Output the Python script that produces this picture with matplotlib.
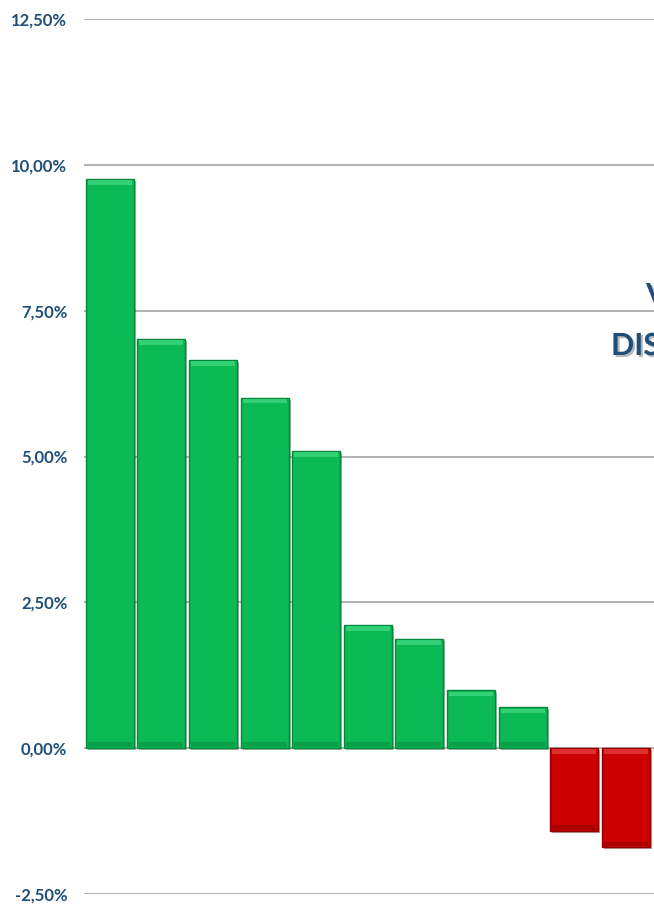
import matplotlib
matplotlib.use('Agg')
import matplotlib.pyplot as plt
import matplotlib.patheffects as pe
from matplotlib.ticker import FuncFormatter

# valores (%)
posicoes = list(range(11))
variacao = [9.76, 7.02, 6.66, 6.01, 5.10, 2.11, 1.87, 0.99, 0.70, -1.42, -1.70]
marcas_y = [-2.5, 0.0, 2.5, 5.0, 7.5, 10.0, 12.5]

azul = '#1F4E79'
verde = '#0BBA55'
vermelho = '#CC0000'

fig = plt.figure(figsize=(6.54, 9.08), dpi=100)
# o eixo passa da borda direita: a imagem original está recortada
ax = fig.add_axes([84 / 654, 14 / 908, 17.75 * 51.6 / 654, 875 / 908])

cores = [verde if v >= 0 else vermelho for v in variacao]
bordas = ['#07873C' if v >= 0 else '#8E0000' for v in variacao]
barras = ax.bar(posicoes, variacao, width=0.93, color=cores, edgecolor=bordas,
                linewidth=1.0, zorder=3)
for b in barras:
    b.set_path_effects([pe.SimplePatchShadow(offset=(1.5, -1.5), alpha=0.35),
                        pe.Normal()])

# leve chanfro: faixa clara no topo e faixa escura na base de cada barra
claras = ['#3FD67F' if v >= 0 else '#E53A3A' for v in variacao]
topo = [max(v, 0) - 0.1 for v in variacao]
ax.bar(posicoes, 0.08, bottom=topo, width=0.85, color=claras, linewidth=0,
       alpha=0.8, zorder=4)
base = [min(v, 0) + 0.02 for v in variacao]
ax.bar(posicoes, 0.08, bottom=base, width=0.85, color=bordas, linewidth=0,
       alpha=0.5, zorder=4)

ax.set_xlim(-0.5, 17.25)
ax.set_ylim(-2.5, 12.5)
ax.set_yticks(marcas_y)
ax.yaxis.set_major_formatter(FuncFormatter(lambda v, p: ('%.2f%%' % v).replace('.', ',')))
ax.grid(axis='y', color='#A6A6A6', linewidth=1.2, zorder=0)
ax.set_xticks([])
ax.tick_params(axis='y', length=0, pad=12)
for lab in ax.get_yticklabels():
    lab.set_fontfamily('Lato')
    lab.set_fontweight('bold')
    lab.set_fontsize(12)
    lab.set_color(azul)
for s in ax.spines.values():
    s.set_visible(False)

sombra = [pe.withSimplePatchShadow(offset=(1.5, -1.5), alpha=0.3)]
fig.text(646 / 654, 1 - 296 / 908, 'V', fontsize=22, fontweight='bold',
         family='Lato', color=azul, va='center', ha='left', path_effects=sombra)
fig.text(611 / 654, 1 - 346 / 908, 'DIS', fontsize=22, fontweight='bold',
         family='Lato', color=azul, va='center', ha='left', path_effects=sombra)

fig.savefig('out.png', dpi=100)
